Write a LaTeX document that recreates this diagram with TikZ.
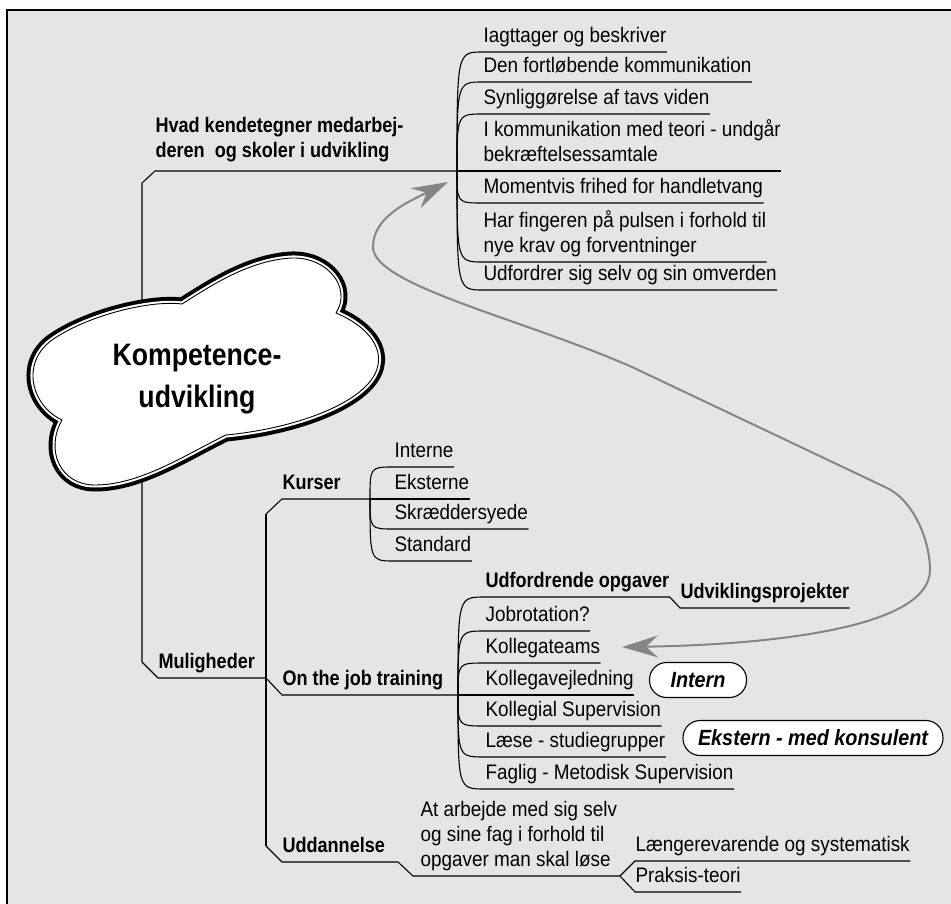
\documentclass[tikz,border=0pt]{standalone}
\usepackage{fontspec}
\setmainfont{Liberation Sans}[FakeStretch=0.9, BoldFeatures={FakeStretch=0.86}]
\usetikzlibrary{arrows.meta,positioning}
\definecolor{panel}{HTML}{E5E5E5}
\definecolor{loopgray}{HTML}{858585}
\newcommand{\lblfont}{\fontsize{21}{25}\selectfont}
\newcommand{\mlines}[1]{\begin{tabular}[b]{@{}l@{}}#1\end{tabular}}

\begin{document}
\begin{tikzpicture}[
    x=1pt, y=-1pt,
    line width=1.1pt,
    leaf/.style={anchor=south west, inner xsep=0pt, inner ysep=5pt, text depth=4pt, font=\lblfont},
    topic/.style={leaf, font=\lblfont\bfseries},
    pill/.style={draw, fill=white, rounded corners=17pt, minimum height=35pt, minimum width=97pt, inner xsep=15pt, font=\fontsize{22}{25}\selectfont\bfseries\itshape},
    core/.style={align=center, font=\fontsize{31}{42}\selectfont\bfseries},
    cloud3d/.style={fill=white, draw=black, line width=0.9pt, line join=round,
        preaction={draw=black, line width=13pt, line join=round},
        preaction={draw=white, line width=5pt, line join=round}},
    feedback/.style={draw=loopgray, line width=2pt, >={Stealth[length=36pt,width=22pt,inset=12pt]}, <->}
]
    % Background panel
    \useasboundingbox (0,0) rectangle (951,904);
    \draw[fill=panel, line width=1.3pt] (7,10) rectangle (965,920);

    % Top branch: Hvad kendetegner ...
    \coordinate (trunk) at (142,380);
    \node[topic, inner ysep=9pt] (hvad) at (155,171) {\mlines{Hvad kendetegner medarbej-\\deren\ \ og skoler i udvikling}};
    \coordinate (tj) at (457,171);
    \node[leaf] (i1) at (483,52) {Iagttager og beskriver};
    \node[leaf, at=(i1.south west), yshift=-30pt] (i2) {Den fortløbende kommunikation};
    \node[leaf, at=(i2.south west), yshift=-32pt] (i3) {Synliggørelse af tavs viden};
    \node[leaf, at=(i3.south west), yshift=-57pt] (i4) {\mlines{I kommunikation med teori - undgår\\bekræftelsessamtale}};
    \node[leaf, at=(i4.south west), yshift=-32pt] (i5) {Momentvis frihed for handletvang};
    \node[leaf, at=(i5.south west), yshift=-59pt] (i6) {\mlines{Har fingeren på pulsen i forhold til\\nye krav og forventninger}};
    \node[leaf, at=(i6.south west), yshift=-28pt] (i7) {Udfordrer sig selv og sin omverden};

    \draw (trunk) -- ([shift={(-13,12)}]hvad.south west) -- (hvad.south west) -- (tj);
    \draw (tj) .. controls (tj |- i1.south west) .. (i1.south west) -- (i1.south east);
    \draw (tj) .. controls (tj |- i2.south west) .. (i2.south west) -- (i2.south east);
    \draw (tj) .. controls (tj |- i3.south west) .. (i3.south west) -- (i3.south east);
    \draw (tj) -- (i4.south west) -- (i4.south east);
    \draw (tj) .. controls (tj |- i5.south west) .. (i5.south west) -- (i5.south east);
    \draw (tj) .. controls (tj |- i6.south west) .. (i6.south west) -- (i6.south east);
    \draw (tj) .. controls (tj |- i7.south west) .. (i7.south west) -- (i7.south east);

    % Bottom branch: Muligheder
    \node[topic] (mul) at (158,678) {Muligheder};
    \coordinate (mj) at (266,678);
    \draw (trunk) -- ([shift={(-16,-16)}]mul.south west) -- (mul.south west) -- (mj);

    \node[topic] (kurs) at (282,499) {Kurser};
    \node[topic] (ojt) at (282,695) {On the job training};
    \node[topic] (udd) at (282,862) {Uddannelse};
    \coordinate (kj) at (370,499);
    \coordinate (oj) at (458,695);
    \coordinate (uj) at (620,876);
    \draw ([shift={(-16,15)}]kurs.south west) -- ([shift={(-16,-16)}]udd.south west);
    \draw ([shift={(-16,15)}]kurs.south west) -- (kurs.south west) -- (kj);
    \draw (mj) -- (ojt.south west) -- (oj);
    \draw ([shift={(-16,-16)}]udd.south west) -- (udd.south west) -- ++(116,0) -- ++(15,14) -- (uj);

    % Kurser
    \node[leaf, at=(kj), xshift=24pt] (k2) {Eksterne};
    \node[leaf, at=(k2.south west), yshift=32pt] (k1) {Interne};
    \node[leaf, at=(k2.south west), yshift=-30pt] (k3) {Skræddersyede};
    \node[leaf, at=(k3.south west), yshift=-32pt] (k4) {Standard};
    \draw (kj) .. controls (kj |- k1.south west) .. (k1.south west) -- (k1.south east);
    \draw (kj) -- (k2.south west) -- (k2.south east);
    \draw (kj) .. controls (kj |- k3.south west) .. (k3.south west) -- (k3.south east);
    \draw (kj) .. controls (kj |- k4.south west) .. (k4.south west) -- (k4.south east);

    % On the job training
    \node[leaf, at=(oj), xshift=27pt] (o4) {Kollegavejledning};
    \node[leaf, at=(o4.south west), yshift=32pt] (o3) {Kollegateams};
    \node[leaf, at=(o3.south west), yshift=32pt] (o2) {Jobrotation?};
    \node[topic, at=(o2.south west), yshift=34pt] (o1) {Udfordrende opgaver};
    \node[leaf, at=(o4.south west), yshift=-31pt] (o5) {Kollegial Supervision};
    \node[leaf, at=(o5.south west), yshift=-31pt] (o6) {Læse - studiegrupper};
    \node[leaf, at=(o6.south west), yshift=-32pt] (o7) {Faglig - Metodisk Supervision};
    \node[topic] (proj) at (680,608) {Udviklingsprojekter};
    \draw (oj) .. controls (oj |- o1.south west) .. (o1.south west) -- (o1.south east) -- (proj.south west) -- (proj.south east);
    \draw (oj) .. controls (oj |- o2.south west) .. (o2.south west) -- (o2.south east);
    \draw (oj) .. controls (oj |- o3.south west) .. (o3.south west) -- (o3.south east);
    \draw (oj) -- (o4.south west) -- (o4.south east);
    \draw (oj) .. controls (oj |- o5.south west) .. (o5.south west) -- (o5.south east);
    \draw (oj) .. controls (oj |- o6.south west) .. (o6.south west) -- (o6.south east);
    \draw (oj) .. controls (oj |- o7.south west) .. (o7.south west) -- (o7.south east);
    \node[pill] (intern) at (698,680) {Intern};
    \node[pill] (ekstern) at (813,738) {Ekstern - med konsulent};

    % Uddannelse
    \node[leaf] (arb) at (420,876) {\mlines{At arbejde med sig selv\\og sine fag i forhold til\\opgaver man skal løse}};
    \node[leaf] (l1) at (635,861) {Længerevarende og systematisk};
    \node[leaf] (l2) at (635,892) {Praksis-teori};
    \draw (uj) -- (l1.south west) -- (l1.south east);
    \draw (uj) -- (l2.south west) -- (l2.south east);

    % Cloud
    \draw[cloud3d] (182,304) .. controls (212,285) and (250,260) .. (292,258)
        .. controls (328,257) and (352,288) .. (336,313)
        .. controls (365,325) and (382,345) .. (378,365)
        .. controls (372,400) and (300,428) .. (226,435)
        .. controls (185,455) and (140,485) .. (95,485)
        .. controls (60,485) and (45,450) .. (62,420)
        .. controls (30,405) and (20,360) .. (55,338)
        .. controls (90,315) and (150,300) .. (182,304) -- cycle;
    \node[core] (core) at (197,379) {Kompetence-\\udvikling};

    % Feedback arrow
    \coordinate (atop) at (448,182);
    \coordinate (abot) at (622,647);
    \draw[feedback] (abot) .. controls (760,645) and (930,630) .. (930,570)
        .. controls (930,540) and (913,499) .. (885,487) -- (632,367)
        .. controls (520,318) and (373,285) .. (373,247)
        .. controls (373,217) and (408,202) .. (atop);
\end{tikzpicture}
\end{document}
